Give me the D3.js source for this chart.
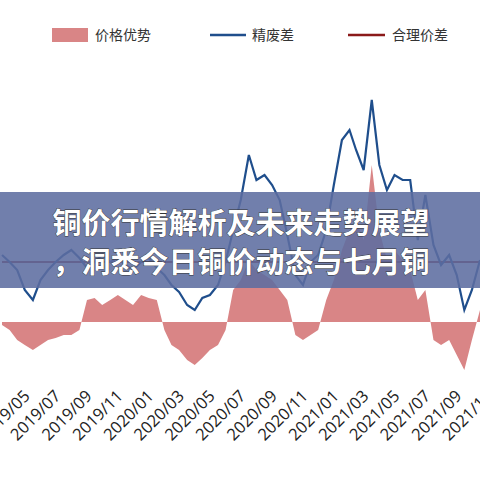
<!DOCTYPE html><html><head><meta charset="utf-8"><script src="https://cdn.jsdelivr.net/npm/d3@7"></script>
<style>body{margin:0;background:#fff}</style></head><body><svg id="c" width="480" height="480"></svg>
<script>
const dates=["2019-04-01","2019-04-16","2019-05-01","2019-05-16","2019-06-01","2019-06-16","2019-07-01","2019-07-16","2019-08-01","2019-08-16","2019-09-01","2019-09-16","2019-10-01","2019-10-16","2019-11-01","2019-11-16","2019-12-01","2019-12-16","2020-01-01","2020-01-16","2020-02-01","2020-02-16","2020-03-01","2020-03-16","2020-04-01","2020-04-16","2020-05-01","2020-05-16","2020-06-01","2020-06-16","2020-07-01","2020-07-16","2020-08-01","2020-08-16","2020-09-01","2020-09-16","2020-10-01","2020-10-16","2020-11-01","2020-11-16","2020-12-01","2020-12-16","2021-01-01","2021-01-16","2021-02-01","2021-02-16","2021-03-01","2021-03-16","2021-04-01","2021-04-16","2021-05-01","2021-05-16","2021-06-01","2021-06-16","2021-07-01","2021-07-16","2021-08-01","2021-08-16","2021-09-01","2021-09-16","2021-10-01","2021-10-16","2021-11-01"];
const spread=[67,60,52,32,22,42,52,60,67,72,64,54,60,67,60,64,57,52,60,64,54,47,37,30,17,12,24,27,37,60,92,122,167,142,147,137,122,87,47,37,60,67,92,137,182,192,172,152,222,157,132,147,142,142,82,127,77,57,67,47,12,32,62];
const advantage=[-3,-8,-18,-23,-28,-23,-18,-16,-13,-13,-8,22,24,17,22,27,22,17,27,24,22,-8,-23,-28,-38,-43,-36,-28,-23,-8,32,42,62,52,47,42,32,22,-13,-18,-13,-8,22,42,72,92,102,82,157,92,62,72,62,52,22,32,-18,-23,-18,-33,-48,-18,12];
const fair=60;
const ticks=["2019/05","2019/07","2019/09","2019/11","2020/01","2020/03","2020/05","2020/07","2020/09","2020/11","2021/01","2021/03","2021/05","2021/07","2021/09","2021/11"];
const svg=d3.select("#c");
const p=d3.timeParse("%Y-%m-%d"), tp=d3.timeParse("%Y/%m");
const x=d3.scaleTime().domain([p("2019-03-28"),p("2021-11-01")]).range([0,480]);
const y=d3.scaleLinear().domain([-60,280]).range([382,42]);
const data=dates.map((d,i)=>({d:p(d),s:spread[i],a:advantage[i]}));
svg.append("path").datum(data).attr("fill","#d98586").attr("d",d3.area().x(d=>x(d.d)).y0(y(0)).y1(d=>y(d.a)));
svg.append("path").datum(data).attr("fill","none").attr("stroke","#8b1a1a").attr("stroke-width",2).attr("d",d3.line().x(d=>x(d.d)).y(()=>y(fair)));
svg.append("path").datum(data).attr("fill","none").attr("stroke","#1f4e8c").attr("stroke-width",2.2).attr("d",d3.line().x(d=>x(d.d)).y(d=>y(d.s)));
const ax=svg.append("g").attr("transform","translate(4,388)").call(d3.axisBottom(x).tickValues(ticks.map(t=>tp(t))).tickFormat((d,i)=>ticks[i]).tickSize(0));
ax.select(".domain").remove();
ax.selectAll("text").attr("font-family","Open Sans").attr("font-size",16.5).attr("fill","#222").attr("text-anchor","end").attr("transform","rotate(-45)").attr("dx","0").attr("dy","0.6em");
// legend
const lg=svg.append("g").attr("font-family","Noto Sans CJK SC").attr("font-size",14).attr("fill","#333");
lg.append("rect").attr("x",52).attr("y",28).attr("width",36).attr("height",14).attr("fill","#d98586");
lg.append("text").attr("x",95).attr("y",40).text("价格优势");
lg.append("line").attr("x1",210).attr("x2",246).attr("y1",35).attr("y2",35).attr("stroke","#1f4e8c").attr("stroke-width",2.5);
lg.append("text").attr("x",252).attr("y",40).text("精废差");
lg.append("line").attr("x1",348).attr("x2",385).attr("y1",35).attr("y2",35).attr("stroke","#8b1a1a").attr("stroke-width",2.5);
lg.append("text").attr("x",392).attr("y",40).text("合理价差");
// banner
svg.append("rect").attr("x",0).attr("y",192).attr("width",480).attr("height",96).attr("fill","#5d6da0").attr("opacity",0.88);
const tt=svg.append("g").attr("font-family","Noto Sans CJK SC").attr("font-weight","bold").attr("font-size",29).attr("fill","#fff").attr("text-anchor","middle").attr("stroke","#333").attr("stroke-width",0.8).attr("paint-order","stroke");
tt.append("text").attr("x",241).attr("y",234).text("铜价行情解析及未来走势展望");
tt.append("text").attr("x",241).attr("y",273).text("，洞悉今日铜价动态与七月铜");
</script></body></html>
